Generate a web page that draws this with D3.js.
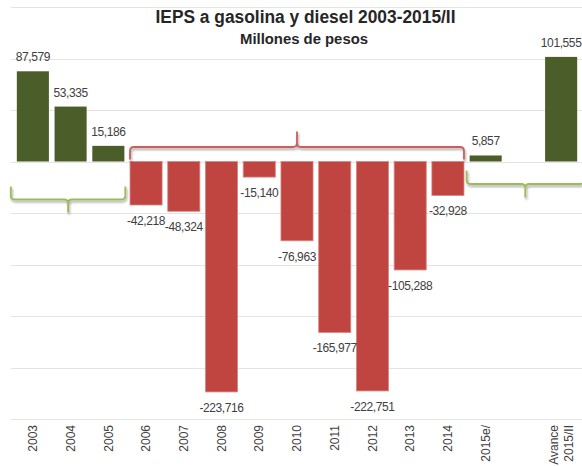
<!DOCTYPE html>
<html>
<head>
<meta charset="utf-8">
<script src="https://cdn.jsdelivr.net/npm/d3@7"></script>
<style>
  body { margin: 0; background: #fff; }
  text { font-family: "Liberation Sans", Arial, sans-serif; }
</style>
</head>
<body>
<svg id="chart" width="582" height="466"></svg>
<script>
// ---- data ----
const categories = ["2003","2004","2005","2006","2007","2008","2009","2010","2011","2012","2013","2014","2015e/","","Avance 2015/II"];
const values = [87579, 53335, 15186, -42218, -48324, -223716, -15140, -76963, -165977, -222751, -105288, -32928, 5857, null, 101555];
const gridTicks = [150000, 100000, 50000, 0, -50000, -100000, -150000, -200000, -250000];
const title = "IEPS a gasolina y diesel 2003-2015/II";
const subtitle = "Millones de pesos";

const W = 582, H = 466;
const svg = d3.select("#chart");

const x = d3.scaleBand().domain(categories).range([14, 580]).paddingInner(0.15).paddingOuter(0.075);
const y = d3.scaleLinear().domain([-250000, 150000]).range([419, 7]);
const bw = x.bandwidth();
const fmt = d3.format(",");

// shadow filter for braces
const defs = svg.append("defs");
const f = defs.append("filter").attr("id", "shadow").attr("x", "-10%").attr("y", "-50%").attr("width", "120%").attr("height", "200%");
f.append("feDropShadow").attr("dx", 1).attr("dy", 2).attr("stdDeviation", 1.2).attr("flood-color", "#000").attr("flood-opacity", 0.35);

// gridlines
svg.append("g").selectAll("line").data(gridTicks).join("line")
  .attr("x1", 11).attr("x2", W)
  .attr("y1", d => Math.round(y(d)) + 0.5).attr("y2", d => Math.round(y(d)) + 0.5)
  .attr("stroke", "#E4E4E4").attr("stroke-width", 1);

// bars
const data = categories.map((c, i) => ({c, v: values[i]})).filter(d => d.v !== null);
svg.append("g").selectAll("rect").data(data).join("rect")
  .attr("x", d => x(d.c))
  .attr("width", bw)
  .attr("y", d => y(Math.max(0, d.v)))
  .attr("height", d => Math.abs(y(d.v) - y(0)))
  .attr("fill", d => d.v >= 0 ? "#4B5E29" : "#C0443F")
  .attr("stroke", d => d.v >= 0 ? "none" : "#D98582")
  .attr("stroke-width", 0.8);

// value labels
svg.append("g").selectAll("text").data(data).join("text")
  .attr("x", d => x(d.c) + bw / 2)
  .attr("y", d => d.v >= 0 ? y(d.v) - 10 : y(d.v) + 20)
  .attr("text-anchor", "middle")
  .attr("font-size", 12)
  .attr("letter-spacing", "-0.4px")
  .attr("fill", "#404040")
  .text(d => fmt(d.v).replace("−", "-"));

// x axis labels (rotated)
const xl = svg.append("g").selectAll("g").data(categories).join("g")
  .attr("transform", d => `translate(${x(d) + bw / 2},425) rotate(-90)`);
xl.each(function(d) {
  const t = d3.select(this).append("text")
    .attr("text-anchor", "end")
    .attr("font-size", 12)
    .attr("fill", "#404040");
  const parts = d.indexOf(" ") >= 0 ? d.split(" ") : [d];
  if (parts.length === 1) {
    t.append("tspan").attr("x", 0).attr("dy", "0.35em").text(parts[0]);
  } else {
    t.append("tspan").attr("x", 0).attr("dy", -3.3).text(parts[0]);
    t.append("tspan").attr("x", 0).attr("dy", 15).text(parts[1]);
  }
});

// braces
function brace(x0, x1, yH, yEnd, yTip, r) {
  const xm = (x0 + x1) / 2;
  const sEnd = Math.sign(yEnd - yH), sTip = Math.sign(yTip - yH);
  return `M${x0},${yEnd} L${x0},${yH + sEnd * r} Q${x0},${yH} ${x0 + r},${yH} ` +
         `L${xm - r},${yH} Q${xm},${yH} ${xm},${yH + sTip * r} L${xm},${yTip} ` +
         `M${xm},${yH + sTip * r} Q${xm},${yH} ${xm + r},${yH} ` +
         `L${x1 - r},${yH} Q${x1},${yH} ${x1},${yH + sEnd * r} L${x1},${yEnd}`;
}
const z = y(0);
const braces = [
  {x0: x("2003") - 6, x1: x("2005") + bw + 1, yH: z + 38, yEnd: z + 25, yTip: z + 51, color: "#9BBB59"},
  {x0: x("2006"), x1: x("2014") + bw, yH: z - 14.5, yEnd: z - 2, yTip: z - 30, color: "#C9605C"},
  {x0: x("2015e/") - 3, x1: W + 2, yH: z + 22.5, yEnd: z + 9, yTip: z + 36, color: "#9BBB59"}
];
svg.append("g").selectAll("path").data(braces).join("path")
  .attr("d", d => brace(d.x0, d.x1, d.yH, d.yEnd, d.yTip, 4))
  .attr("fill", "none")
  .attr("stroke", d => d.color)
  .attr("stroke-width", 1.8)
  .attr("filter", "url(#shadow)");

// titles
svg.append("text").attr("x", 305.5).attr("y", 23).attr("text-anchor", "middle")
  .attr("font-size", 18).attr("font-weight", "bold").attr("fill", "#262626")
  .attr("textLength", 300).attr("lengthAdjust", "spacingAndGlyphs")
  .text(title);
svg.append("text").attr("x", 304).attr("y", 44).attr("text-anchor", "middle")
  .attr("font-size", 14).attr("font-weight", "bold").attr("fill", "#262626")
  .attr("textLength", 128).attr("lengthAdjust", "spacingAndGlyphs")
  .text(subtitle);
</script>
</body>
</html>
